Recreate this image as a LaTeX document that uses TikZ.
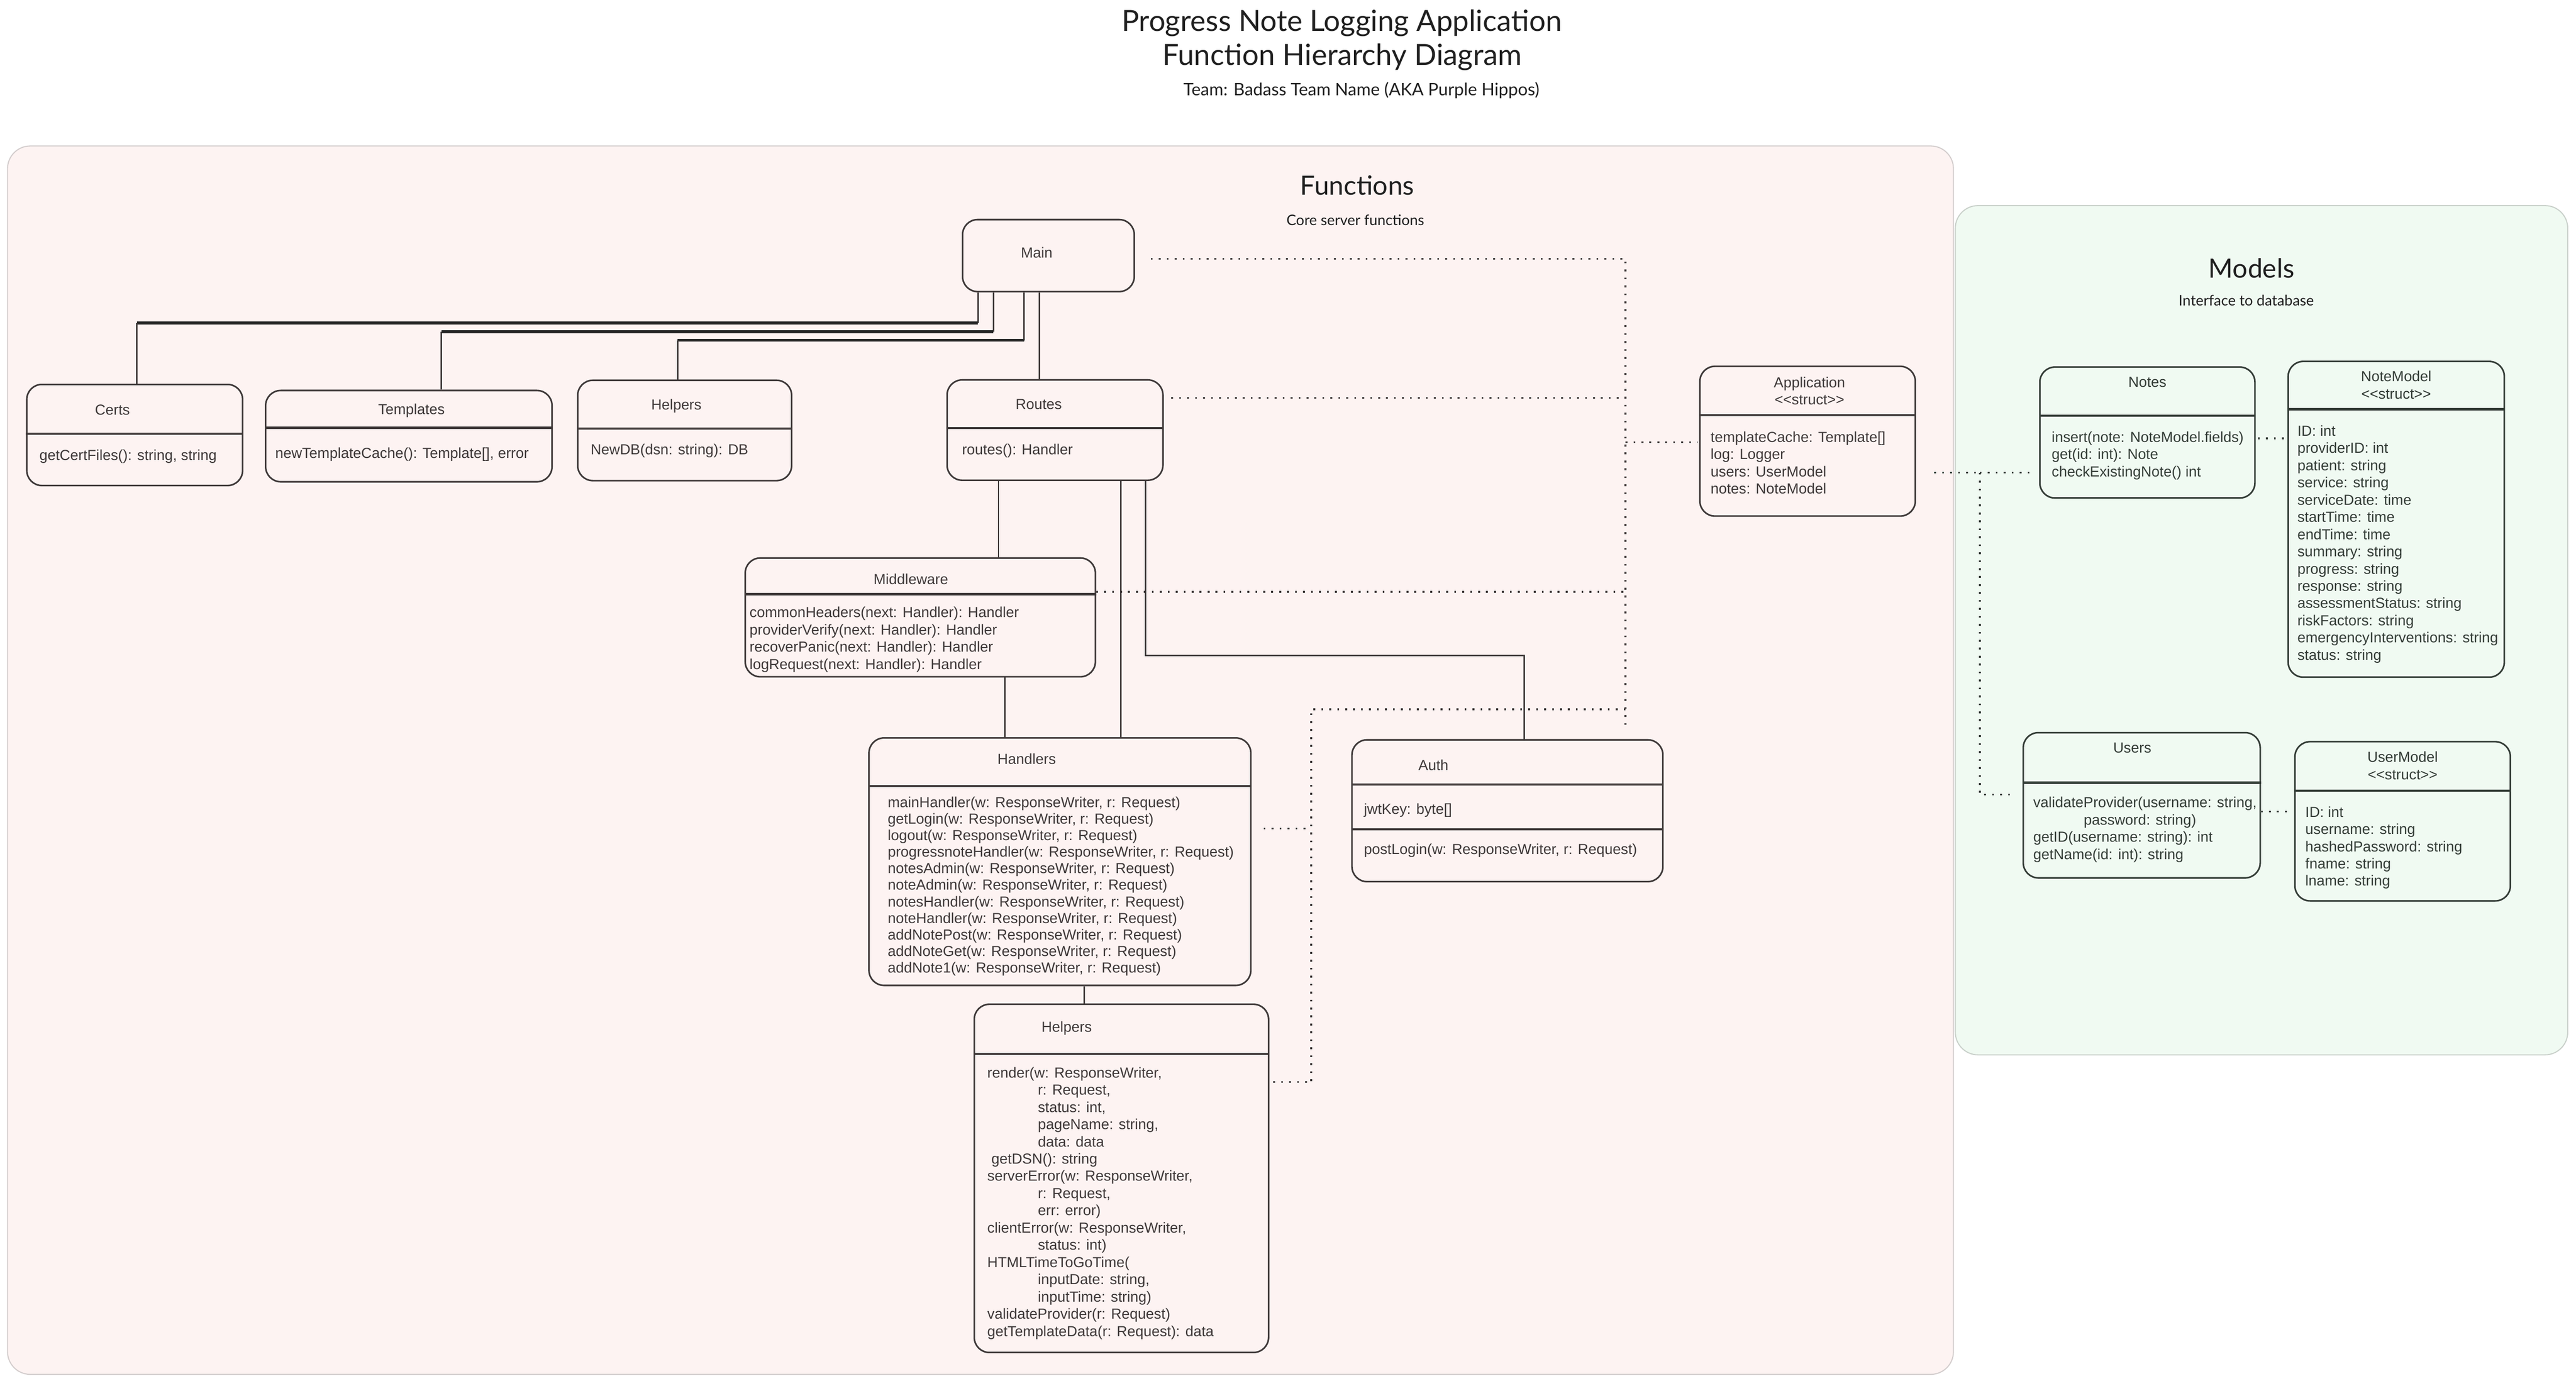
\documentclass[tikz,border=0pt]{standalone}
\usepackage{fontspec}
\setmainfont{Liberation Sans}
\newfontfamily\headfont{Lato}
\usetikzlibrary{positioning,calc}

\definecolor{ink}{HTML}{3F3939}
\definecolor{inkgreen}{HTML}{343D37}
\definecolor{fnfill}{HTML}{FDF3F2}
\definecolor{fnline}{HTML}{D3CDCD}
\definecolor{mdfill}{HTML}{F0FAF2}
\definecolor{mdline}{HTML}{C9D0CA}

\begin{document}
\begin{tikzpicture}[x=1cm,y=1cm,
    classbox/.style={draw=ink,line width=1.2pt,rounded corners=0.4cm,inner sep=0pt},
    modelbox/.style={classbox,draw=inkgreen},
    divider/.style={draw=ink,line width=1.7pt},
    mdivider/.style={divider,draw=inkgreen},
    ctitle/.style={inner sep=0pt,font=\fontsize{11}{13}\selectfont,text=ink,align=center},
    mtitle/.style={ctitle,text=inkgreen},
    cbody/.style={inner sep=0pt,font=\fontsize{11}{13}\selectfont,text=ink,align=left,anchor=north west},
    mbody/.style={cbody,text=inkgreen},
    link/.style={draw=ink,line width=1.1pt},
    busline/.style={draw=black!85,line width=2.6pt},
    dotline/.style={draw=ink,line width=1.4pt,dash pattern=on 1.4pt off 4.6pt},
    mdotline/.style={dotline,draw=inkgreen},
    area/.style={rounded corners=0.6cm,line width=0.8pt},
    heading/.style={inner sep=0pt,anchor=base,text=black!88}]

  \useasboundingbox[fill=white] (0,0) rectangle (68.27,-36.60);

  % title
  \node[heading,font=\headfont\fontsize{22}{26}\selectfont] (title1) at (35.56,-0.83) {Progress Note Logging Application};
  \node[heading,font=\headfont\fontsize{22}{26}\selectfont] (title2) at (35.57,-1.73) {Function Hierarchy Diagram};
  \node[heading,font=\headfont\fontsize{13}{15}\selectfont] (team) at (36.08,-2.53) {Team: Badass Team Name (AKA Purple Hippos)};

  % the two areas
  \draw[area,fill=fnfill,draw=fnline] (0.20,-3.87) rectangle (51.77,-36.43);
  \draw[area,fill=mdfill,draw=mdline] (51.82,-5.45) rectangle (68.05,-27.96);
  \node[heading,font=\headfont\fontsize{20}{24}\selectfont] (fnTitle) at (35.97,-5.17) {Functions};
  \node[heading,font=\headfont\fontsize{11}{13}\selectfont] (fnSub) at (35.92,-5.98) {Core server functions};
  \node[heading,font=\headfont\fontsize{20}{24}\selectfont] (mdTitle) at (59.67,-7.37) {Models};
  \node[heading,font=\headfont\fontsize{11}{13}\selectfont] (mdSub) at (59.53,-8.11) {Interface to database};

  % Main
  \node[classbox,minimum width=4.55cm,minimum height=1.91cm] (main) at (27.785,-6.775) {};
  \node[ctitle] (mainT) at ([xshift=-3.1mm,yshift=-9.0mm]main.north) {Main};

  % Certs
  \node[classbox,minimum width=5.72cm,minimum height=2.68cm] (certs) at (3.57,-11.53) {};
  \node[ctitle] (certsT) at ([xshift=-5.9mm,yshift=-6.9mm]certs.north) {Certs};
  \draw[divider] ([yshift=-13.3mm]certs.north west) -- ([yshift=-13.3mm]certs.north east);
  \node[cbody] (certsB) at ([xshift=3.5mm,yshift=-17.5mm]certs.north west) {getCertFiles(): string, string};

  % Templates
  \node[classbox,minimum width=7.59cm,minimum height=2.42cm] (templ) at (10.835,-11.56) {};
  \node[ctitle] (templT) at ([xshift=0.7mm,yshift=-5.5mm]templ.north) {Templates};
  \draw[divider] ([yshift=-10.1mm]templ.north west) -- ([yshift=-10.1mm]templ.north east);
  \node[cbody] (templB) at ([xshift=2.7mm,yshift=-15.3mm]templ.north west) {newTemplateCache(): Template[], error};

  % Helpers (database)
  \node[classbox,minimum width=5.67cm,minimum height=2.66cm] (helpA) at (18.145,-11.41) {};
  \node[ctitle] (helpAT) at ([xshift=-2.2mm,yshift=-7.0mm]helpA.north) {Helpers};
  \draw[divider] ([yshift=-13.0mm]helpA.north west) -- ([yshift=-13.0mm]helpA.north east);
  \node[cbody] (helpAB) at ([xshift=3.6mm,yshift=-17.1mm]helpA.north west) {NewDB(dsn: string): DB};

  % Routes
  \node[classbox,minimum width=5.72cm,minimum height=2.66cm] (routes) at (27.96,-11.40) {};
  \node[ctitle] (routesT) at ([xshift=-4.3mm,yshift=-6.7mm]routes.north) {Routes};
  \draw[divider] ([yshift=-13.0mm]routes.north west) -- ([yshift=-13.0mm]routes.north east);
  \node[cbody] (routesB) at ([xshift=4.1mm,yshift=-17.2mm]routes.north west) {routes(): Handler};

  % Middleware
  \node[classbox,minimum width=9.28cm,minimum height=3.15cm] (mid) at (24.39,-16.365) {};
  \node[ctitle] (midT) at ([xshift=-2.5mm,yshift=-5.8mm]mid.north) {Middleware};
  \draw[divider] ([yshift=-9.8mm]mid.north west) -- ([yshift=-9.8mm]mid.north east);
  \node[cbody] (midB) at ([xshift=1.3mm,yshift=-13.1mm]mid.north west)
    {commonHeaders(next: Handler): Handler\\
     providerVerify(next: Handler): Handler\\
     recoverPanic(next: Handler): Handler\\
     logRequest(next: Handler): Handler};

  % Handlers
  \node[classbox,minimum width=10.12cm,minimum height=6.56cm] (hand) at (28.09,-22.84) {};
  \node[ctitle] (handT) at ([xshift=-8.8mm,yshift=-5.8mm]hand.north) {Handlers};
  \draw[divider] ([yshift=-13.0mm]hand.north west) -- ([yshift=-13.0mm]hand.north east);
  \node[cbody,font=\fontsize{11}{12.5}\selectfont] (handB) at ([xshift=5.1mm,yshift=-15.7mm]hand.north west)
    {mainHandler(w: ResponseWriter, r: Request)\\
     getLogin(w: ResponseWriter, r: Request)\\
     logout(w: ResponseWriter, r: Request)\\
     progressnoteHandler(w: ResponseWriter, r: Request)\\
     notesAdmin(w: ResponseWriter, r: Request)\\
     noteAdmin(w: ResponseWriter, r: Request)\\
     notesHandler(w: ResponseWriter, r: Request)\\
     noteHandler(w: ResponseWriter, r: Request)\\
     addNotePost(w: ResponseWriter, r: Request)\\
     addNoteGet(w: ResponseWriter, r: Request)\\
     addNote1(w: ResponseWriter, r: Request)};

  % Helpers (handlers)
  \node[classbox,minimum width=7.80cm,minimum height=9.23cm] (help2) at (29.72,-31.235) {};
  \node[ctitle] (help2T) at ([xshift=-14.5mm,yshift=-6.6mm]help2.north) {Helpers};
  \draw[divider] ([yshift=-13.4mm]help2.north west) -- ([yshift=-13.4mm]help2.north east);
  \node[cbody] (help2B) at ([xshift=3.6mm,yshift=-16.8mm]help2.north west)
    {render(w: ResponseWriter,\\
     \hspace*{1.34cm}r: Request,\\
     \hspace*{1.34cm}status: int,\\
     \hspace*{1.34cm}pageName: string,\\
     \hspace*{1.34cm}data: data\\
     \hspace*{0.11cm}getDSN(): string\\
     serverError(w: ResponseWriter,\\
     \hspace*{1.34cm}r: Request,\\
     \hspace*{1.34cm}err: error)\\
     clientError(w: ResponseWriter,\\
     \hspace*{1.34cm}status: int)\\
     HTMLTimeToGoTime(\\
     \hspace*{1.34cm}inputDate: string,\\
     \hspace*{1.34cm}inputTime: string)\\
     validateProvider(r: Request)\\
     getTemplateData(r: Request): data};

  % Auth
  \node[classbox,minimum width=8.24cm,minimum height=3.76cm] (auth) at (39.95,-21.49) {};
  \node[ctitle] (authT) at ([xshift=-19.6mm,yshift=-6.9mm]auth.north) {Auth};
  \draw[divider] ([yshift=-12.1mm]auth.north west) -- ([yshift=-12.1mm]auth.north east);
  \draw[divider] ([yshift=-23.9mm]auth.north west) -- ([yshift=-23.9mm]auth.north east);
  \node[cbody] (authKey) at ([xshift=3.3mm,yshift=-17.1mm]auth.north west) {jwtKey: byte[]};
  \node[cbody] (authLogin) at ([xshift=3.3mm,yshift=-27.7mm]auth.north west) {postLogin(w: ResponseWriter, r: Request)};

  % Application
  \node[classbox,minimum width=5.71cm,minimum height=3.97cm] (app) at (47.905,-11.695) {};
  \node[ctitle] (appT) at ([xshift=0.5mm,yshift=-6.7mm]app.north) {Application\\<\kern0pt<struct>\kern0pt>};
  \draw[divider] ([yshift=-13.2mm]app.north west) -- ([yshift=-13.2mm]app.north east);
  \node[cbody] (appB) at ([xshift=3.0mm,yshift=-17.4mm]app.north west)
    {templateCache: Template[]\\
     log: Logger\\
     users: UserModel\\
     notes: NoteModel};

  % Notes
  \node[modelbox,minimum width=5.70cm,minimum height=3.47cm] (notes) at (56.91,-11.465) {};
  \node[mtitle] (notesT) at ([yshift=-4.2mm]notes.north) {Notes};
  \draw[mdivider] ([yshift=-13.1mm]notes.north west) -- ([yshift=-13.1mm]notes.north east);
  \node[mbody] (notesB) at ([xshift=3.3mm,yshift=-17.2mm]notes.north west)
    {insert(note: NoteModel.fields)\\
     get(id: int): Note\\
     checkExistingNote() int};

  % NoteModel
  \node[modelbox,minimum width=5.73cm,minimum height=8.37cm] (nmodel) at (63.505,-13.765) {};
  \node[mtitle] (nmodelT) at ([yshift=-6.45mm]nmodel.north) {NoteModel\\<\kern0pt<struct>\kern0pt>};
  \draw[mdivider] ([yshift=-12.9mm]nmodel.north west) -- ([yshift=-12.9mm]nmodel.north east);
  \node[mbody] (nmodelB) at ([xshift=2.6mm,yshift=-17.1mm]nmodel.north west)
    {ID: int\\
     providerID: int\\
     patient: string\\
     service: string\\
     serviceDate: time\\
     startTime: time\\
     endTime: time\\
     summary: string\\
     progress: string\\
     response: string\\
     assessmentStatus: string\\
     riskFactors: string\\
     emergencyInterventions: string\\
     status: string};

  % Users
  \node[modelbox,minimum width=6.28cm,minimum height=3.85cm] (users) at (56.76,-21.345) {};
  \node[mtitle] (usersT) at ([xshift=-2.5mm,yshift=-4.3mm]users.north) {Users};
  \draw[mdivider] ([yshift=-13.5mm]users.north west) -- ([yshift=-13.5mm]users.north east);
  \node[mbody] (usersB) at ([xshift=2.8mm,yshift=-17.2mm]users.north west)
    {validateProvider(username: string,\\
     \hspace*{1.34cm}password: string)\\
     getID(username: string): int\\
     getName(id: int): string};

  % UserModel
  \node[modelbox,minimum width=5.71cm,minimum height=4.22cm] (umodel) at (63.675,-21.77) {};
  \node[mtitle] (umodelT) at ([yshift=-6.55mm]umodel.north) {UserModel\\<\kern0pt<struct>\kern0pt>};
  \draw[mdivider] ([yshift=-13.2mm]umodel.north west) -- ([yshift=-13.2mm]umodel.north east);
  \node[mbody] (umodelB) at ([xshift=2.9mm,yshift=-17.3mm]umodel.north west)
    {ID: int\\
     username: string\\
     hashedPassword: string\\
     fname: string\\
     lname: string};

  % call tree from Main
  \coordinate (kneeCertsA) at (25.92,-8.56);
  \coordinate (kneeCertsB) at (3.63,-8.56);
  \coordinate (kneeTemplA) at (26.33,-8.79);
  \coordinate (kneeTemplB) at (11.70,-8.79);
  \coordinate (kneeHelpA) at (27.14,-9.02);
  \coordinate (kneeHelpB) at (17.96,-9.02);
  \coordinate (dropRoutes) at (27.55,-9.0);
  \draw[link] (main.south -| kneeCertsA) -- (kneeCertsA);
  \draw[busline] (kneeCertsA) -- (kneeCertsB);
  \draw[link] (kneeCertsB) -- (kneeCertsB |- certs.north);
  \draw[link] (main.south -| kneeTemplA) -- (kneeTemplA);
  \draw[busline,line width=2.4pt] (kneeTemplA) -- (kneeTemplB);
  \draw[link] (kneeTemplB) -- (kneeTemplB |- templ.north);
  \draw[link] (main.south -| kneeHelpA) -- (kneeHelpA);
  \draw[busline,line width=1.9pt] (kneeHelpA) -- (kneeHelpB);
  \draw[link] (kneeHelpB) -- (kneeHelpB |- helpA.north);
  \draw[link] (main.south -| dropRoutes) -- (routes.north -| dropRoutes);

  % call tree from Routes
  \coordinate (dropMid) at (26.46,-13.0);
  \coordinate (dropHand) at (29.70,-13.0);
  \coordinate (kneeAuthA) at (30.36,-17.38);
  \coordinate (kneeAuthB) at (40.39,-17.38);
  \coordinate (dropMidHand) at (26.63,-18.5);
  \coordinate (dropHandHelp) at (28.73,-26.3);
  \draw[link] (routes.south -| dropMid) -- (mid.north -| dropMid);
  \draw[link] (routes.south -| dropHand) -- (hand.north -| dropHand);
  \draw[link] (routes.south -| kneeAuthA) -- (kneeAuthA) -- (kneeAuthB) -- (kneeAuthB |- auth.north);
  \draw[link] (mid.south -| dropMidHand) -- (hand.north -| dropMidHand);
  \draw[link] (hand.south -| dropHandHelp) -- (help2.north -| dropHandHelp);

  % uses of Application
  \coordinate (busTop) at (43.08,-6.86);
  \coordinate (busEnd) at (43.08,-19.34);
  \coordinate (jRoutes) at (43.08,-10.55);
  \coordinate (jApp) at (43.08,-11.72);
  \coordinate (jMid) at (43.08,-15.69);
  \coordinate (jLoop) at (43.08,-18.80);
  \coordinate (loopTop) at (34.75,-18.80);
  \coordinate (jHand) at (34.75,-21.96);
  \coordinate (loopEnd) at (34.75,-28.68);
  \draw[dotline,shorten <=4.2mm] (busTop -| main.east) -- (busTop) -- (busEnd);
  \draw[dotline,shorten <=2mm] (jRoutes -| routes.east) -- (jRoutes);
  \draw[dotline,shorten >=0.5mm] (jApp) -- (jApp -| app.west);
  \draw[dotline] (jMid -| mid.east) -- (jMid);
  \draw[dotline] (jLoop) -- (loopTop) -- (loopEnd);
  \draw[dotline,shorten <=3.2mm] (jHand -| hand.east) -- (jHand);
  \draw[dotline,shorten <=1mm] (loopEnd -| help2.east) -- (loopEnd);

  % Application to the models
  \coordinate (jNotes) at (52.47,-12.53);
  \coordinate (jUsers) at (52.47,-21.06);
  \coordinate (jNModel) at (60.30,-11.62);
  \coordinate (jUModel) at (60.30,-21.51);
  \draw[mdotline,shorten <=4.8mm] (jNotes -| app.east) -- (jNotes);
  \draw[mdotline,shorten >=1.8mm] (jNotes) -- (jNotes -| notes.west);
  \draw[mdotline,shorten >=1.8mm] (jNotes) -- (jUsers) -- (jUsers -| users.west);
  \draw[mdotline,shorten <=0.6mm] (jNModel -| notes.east) -- (jNModel -| nmodel.west);
  \draw[mdotline,shorten >=1.1mm] (jUModel -| users.east) -- (jUModel -| umodel.west);

\end{tikzpicture}
\end{document}
